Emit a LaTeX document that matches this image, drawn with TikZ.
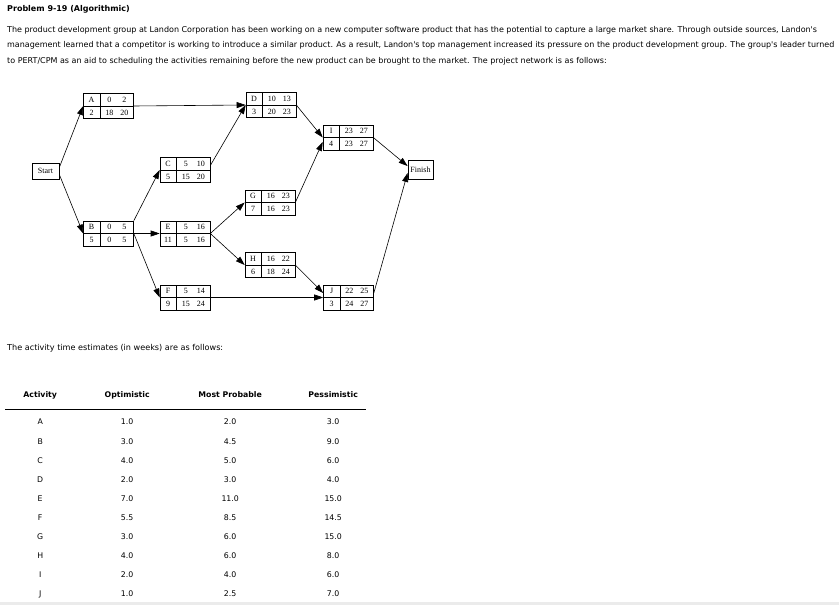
\documentclass[tikz,border=0pt]{standalone}
\usepackage[table]{xcolor}
\usepackage{fontspec}
\setmainfont{Liberation Serif}
\newfontfamily\verdana{DejaVu Sans}
\usepackage{tikz}
\usetikzlibrary{positioning, calc, arrows.meta}

\begin{document}
\begin{tikzpicture}[
  x=1pt, y=-1pt,
  font=\fontsize{8}{9}\selectfont,
  activity/.style={
    draw,
    line width=0.8pt,
    inner sep=0pt,
  },
  endpoint/.style={
    draw,
    line width=0.8pt,
    inner sep=0pt,
    minimum width=27pt,
    minimum height=16pt,
  },
  link/.style={line width=0.6pt, -{Triangle[length=9pt,width=6pt]}},
  prose/.style={font=\verdana\fontsize{8}{15.5}\selectfont, anchor=west, inner sep=0pt, align=left},
]
\useasboundingbox (0,0) rectangle (839,605);
\fill[black!8] (0,602) rectangle (839,605);

% --- problem text ---
\node[prose] (title) at (7,9) {\bfseries Problem 9-19 (Algorithmic)};
\node[prose] (intro) at (7,45.5) {%
  The product development group at Landon Corporation has been working on a new computer software product that has the potential to capture a large market share. Through outside sources, Landon's\\
  management learned that a competitor is working to introduce a similar product. As a result, Landon's top management increased its pressure on the product development group. The group's leader turned\\
  to PERT/CPM as an aid to scheduling the activities remaining before the new product can be brought to the market. The project network is as follows:};

% --- Start / Finish ---
\node[endpoint] (Start) at (45.5,171) {Start};
\node[endpoint, minimum width=25pt, minimum height=19pt] (Finish) at (420.5,169.5) {Finish};

% --- A ---
\node[activity] (A) at (108.5,106) {%
  {\setlength{\tabcolsep}{0pt}%
   \setlength{\arrayrulewidth}{0.8pt}%
   \begin{tabular}{w{c}{16pt}|w{c}{33pt}}
  A\rule[-3.4pt]{0pt}{12pt} & \makebox[15pt]{0}\makebox[15pt]{2}\\
  \hline
  2\rule[-3.4pt]{0pt}{12pt} & \makebox[15pt]{18}\makebox[15pt]{20}\\
  \end{tabular}}%
};

% --- B ---
\node[activity] (B) at (108.5,233.5) {%
  {\setlength{\tabcolsep}{0pt}%
   \setlength{\arrayrulewidth}{0.8pt}%
   \begin{tabular}{w{c}{16pt}|w{c}{33pt}}
  B\rule[-3.4pt]{0pt}{12pt} & \makebox[15pt]{0}\makebox[15pt]{5}\\
  \hline
  5\rule[-3.4pt]{0pt}{12pt} & \makebox[15pt]{0}\makebox[15pt]{5}\\
  \end{tabular}}%
};

% --- C ---
\node[activity] (C) at (185,170) {%
  {\setlength{\tabcolsep}{0pt}%
   \setlength{\arrayrulewidth}{0.8pt}%
   \begin{tabular}{w{c}{16pt}|w{c}{33pt}}
  C\rule[-3.4pt]{0pt}{12pt} & \makebox[15pt]{5}\makebox[15pt]{10}\\
  \hline
  5\rule[-3.4pt]{0pt}{12pt} & \makebox[15pt]{15}\makebox[15pt]{20}\\
  \end{tabular}}%
};

% --- D ---
\node[activity] (D) at (271,105) {%
  {\setlength{\tabcolsep}{0pt}%
   \setlength{\arrayrulewidth}{0.8pt}%
   \begin{tabular}{w{c}{16pt}|w{c}{33pt}}
  D\rule[-3.4pt]{0pt}{12pt} & \makebox[15pt]{10}\makebox[15pt]{13}\\
  \hline
  3\rule[-3.4pt]{0pt}{12pt} & \makebox[15pt]{20}\makebox[15pt]{23}\\
  \end{tabular}}%
};

% --- E ---
\node[activity] (E) at (185,233.5) {%
  {\setlength{\tabcolsep}{0pt}%
   \setlength{\arrayrulewidth}{0.8pt}%
   \begin{tabular}{w{c}{16pt}|w{c}{33pt}}
  E\rule[-3.4pt]{0pt}{12pt} & \makebox[15pt]{5}\makebox[15pt]{16}\\
  \hline
  11\rule[-3.4pt]{0pt}{12pt} & \makebox[15pt]{5}\makebox[15pt]{16}\\
  \end{tabular}}%
};

% --- F ---
\node[activity] (F) at (185,297.5) {%
  {\setlength{\tabcolsep}{0pt}%
   \setlength{\arrayrulewidth}{0.8pt}%
   \begin{tabular}{w{c}{16pt}|w{c}{33pt}}
  F\rule[-3.4pt]{0pt}{12pt} & \makebox[15pt]{5}\makebox[15pt]{14}\\
  \hline
  9\rule[-3.4pt]{0pt}{12pt} & \makebox[15pt]{15}\makebox[15pt]{24}\\
  \end{tabular}}%
};

% --- G ---
\node[activity] (G) at (270,202.5) {%
  {\setlength{\tabcolsep}{0pt}%
   \setlength{\arrayrulewidth}{0.8pt}%
   \begin{tabular}{w{c}{16pt}|w{c}{33pt}}
  G\rule[-3.4pt]{0pt}{12pt} & \makebox[15pt]{16}\makebox[15pt]{23}\\
  \hline
  7\rule[-3.4pt]{0pt}{12pt} & \makebox[15pt]{16}\makebox[15pt]{23}\\
  \end{tabular}}%
};

% --- H ---
\node[activity] (H) at (270,265) {%
  {\setlength{\tabcolsep}{0pt}%
   \setlength{\arrayrulewidth}{0.8pt}%
   \begin{tabular}{w{c}{16pt}|w{c}{33pt}}
  H\rule[-3.4pt]{0pt}{12pt} & \makebox[15pt]{16}\makebox[15pt]{22}\\
  \hline
  6\rule[-3.4pt]{0pt}{12pt} & \makebox[15pt]{18}\makebox[15pt]{24}\\
  \end{tabular}}%
};

% --- I ---
\node[activity] (I) at (348,137.5) {%
  {\setlength{\tabcolsep}{0pt}%
   \setlength{\arrayrulewidth}{0.8pt}%
   \begin{tabular}{w{c}{16pt}|w{c}{33pt}}
  I\rule[-3.4pt]{0pt}{12pt} & \makebox[15pt]{23}\makebox[15pt]{27}\\
  \hline
  4\rule[-3.4pt]{0pt}{12pt} & \makebox[15pt]{23}\makebox[15pt]{27}\\
  \end{tabular}}%
};

% --- J ---
\node[activity] (J) at (348.5,297.5) {%
  {\setlength{\tabcolsep}{0pt}%
   \setlength{\arrayrulewidth}{0.8pt}%
   \begin{tabular}{w{c}{16pt}|w{c}{33pt}}
  J\rule[-3.4pt]{0pt}{12pt} & \makebox[15pt]{22}\makebox[15pt]{25}\\
  \hline
  3\rule[-3.4pt]{0pt}{12pt} & \makebox[15pt]{24}\makebox[15pt]{27}\\
  \end{tabular}}%
};

% precedence arrows
\draw[link] (Start.15) -- (A.west);
\draw[link] (Start.-15) -- (B.west);
\draw[link] (A.east) -- (D.west);
\draw[link] (B.north east) -- (C.west);
\draw[link] (B.east) -- (E.west);
\draw[link] (B.east) -- (F.west);
\draw[link] (C.10) -- (D.west);
\draw[link] (E.east) -- (G.west);
\draw[link] (E.east) -- (H.west);
\draw[link] (D.east) -- (I.west);
\draw[link] (G.east) -- (I.190);
\draw[link] (H.east) -- (J.170);
\draw[link] (F.east) -- (J.west);
\draw[link] (I.east) -- (Finish.165);
\draw[link] (J.10) -- (Finish.195);

% --- time estimates ---
\node[prose, font=\verdana\fontsize{8.1}{10}\selectfont] (lead) at (7,348) {The activity time estimates (in weeks) are as follows:};
\node[anchor=north west, inner sep=0pt, font=\verdana\fontsize{7.8}{9}\selectfont] (estimates) at (5,387.5) {%
  {\setlength{\tabcolsep}{0pt}%
   \begin{tabular}{w{c}{70pt}w{c}{104pt}w{c}{102pt}w{c}{104pt}}
  \textbf{Activity}\rule[-10.85pt]{0pt}{21.1pt} & \textbf{Optimistic} & \textbf{Most Probable} & \textbf{Pessimistic}\\
  \noalign{\hrule height 0.8pt width 361pt}
  A\rule[-6.8pt]{0pt}{22.15pt} & 1.0 & 2.0 & 3.0\\
  B\rule[-6.8pt]{0pt}{19.1pt} & 3.0 & 4.5 & 9.0\\
  C\rule[-6.8pt]{0pt}{19.1pt} & 4.0 & 5.0 & 6.0\\
  D\rule[-6.8pt]{0pt}{19.1pt} & 2.0 & 3.0 & 4.0\\
  E\rule[-6.8pt]{0pt}{19.1pt} & 7.0 & 11.0 & 15.0\\
  F\rule[-6.8pt]{0pt}{19.1pt} & 5.5 & 8.5 & 14.5\\
  G\rule[-6.8pt]{0pt}{19.1pt} & 3.0 & 6.0 & 15.0\\
  H\rule[-6.8pt]{0pt}{19.1pt} & 4.0 & 6.0 & 8.0\\
  I\rule[-6.8pt]{0pt}{19.1pt} & 2.0 & 4.0 & 6.0\\
  J\rule[-6.8pt]{0pt}{19.1pt} & 1.0 & 2.5 & 7.0\\
  \end{tabular}}%
};

\end{tikzpicture}
\end{document}
